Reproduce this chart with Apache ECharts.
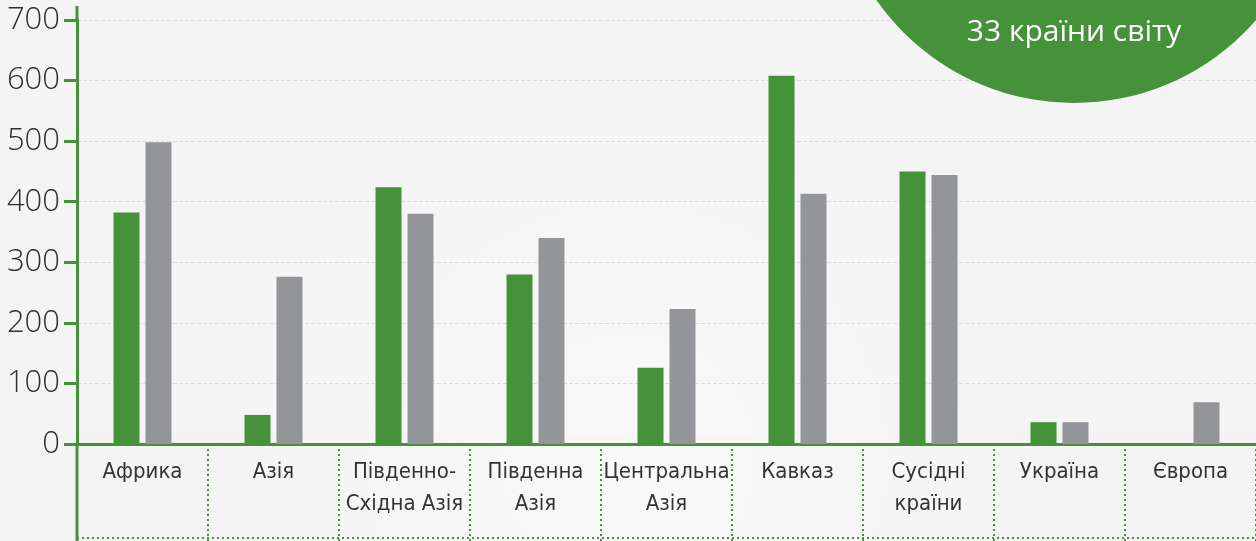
<!DOCTYPE html>
<html>
<head>
<meta charset="utf-8">
<title>Chart</title>
<script src="https://cdn.jsdelivr.net/npm/echarts@6/dist/echarts.min.js"></script>
<style>
  html, body { margin: 0; padding: 0; }
  #chart { width: 1256px; height: 541px; }
</style>
</head>
<body>
<div id="chart"></div>
<script>
// категорії та значення
const categories = ['Африка', 'Азія', 'Південно-\nСхідна Азія', 'Південна\nАзія', 'Центральна\nАзія', 'Кавказ', 'Сусідні\nкраїни', 'Україна', 'Європа']
const greenValues = [382, 48, 424, 280, 126, 608, 450, 36, 0]
const grayValues = [498, 276, 380, 340, 223, 413, 444, 36, 69]
const yTicks = [0, 100, 200, 300, 400, 500, 600, 700]

const GREEN = '#46923a'
const GRAY = '#949598'
const NARROW = "'DejaVu Sans Condensed', 'Liberation Sans Narrow', 'Arial Narrow', 'Open Sans', sans-serif"

const chart = echarts.init(document.getElementById('chart'))

const option = {
  backgroundColor: {
    type: 'radial', x: 0.5, y: 0.85, r: 0.75,
    colorStops: [
      { offset: 0, color: '#f9f9f9' },
      { offset: 1, color: '#f3f4f3' }
    ]
  },
  animation: false,
  grid: { left: 77, right: 0, top: 20, bottom: 97, containLabel: false },
  xAxis: {
    type: 'category',
    data: categories,
    boundaryGap: true,
    axisLine: { show: true, lineStyle: { color: GREEN, width: 3 } },
    axisTick: {
      show: true, length: 97, alignWithLabel: false,
      lineStyle: { color: GREEN, width: 2, type: [2, 3] }
    },
    axisLabel: {
      interval: 0, margin: 12, lineHeight: 32,
      fontFamily: NARROW, fontWeight: 300, fontSize: 22, color: '#333'
    },
    splitLine: { show: false }
  },
  yAxis: {
    type: 'value',
    min: 0, max: 700, interval: 100,
    axisLine: { show: true, lineStyle: { color: GREEN, width: 3 } },
    axisTick: { show: true, length: 13, lineStyle: { color: GREEN, width: 3 } },
    axisLabel: {
      margin: 17, fontFamily: 'Open Sans', fontWeight: 300, fontSize: 31, color: '#2f2f2f',
      formatter: v => yTicks.includes(v) ? String(v) : ''
    },
    splitLine: { show: true, lineStyle: { color: '#dcdcdc', width: 1, type: 'dashed' } }
  },
  series: [
    {
      name: 'green', type: 'bar', data: greenValues,
      barWidth: 26, barGap: '23%',
      itemStyle: { color: GREEN }, z: 1
    },
    {
      name: 'gray', type: 'bar', data: grayValues,
      barWidth: 26,
      itemStyle: { color: GRAY }, z: 1
    }
  ],
  graphic: [
    // продовження осі Y вгору і вниз
    { type: 'line', shape: { x1: 77, y1: 6, x2: 77, y2: 22 }, style: { stroke: GREEN, lineWidth: 3 }, z: 10 },
    { type: 'line', shape: { x1: 77, y1: 443, x2: 77, y2: 541 }, style: { stroke: GREEN, lineWidth: 3 }, z: 10 },
    // нижня пунктирна лінія таблиці
    { type: 'line', shape: { x1: 77, y1: 538, x2: 1256, y2: 538 }, style: { stroke: GREEN, lineWidth: 2, lineDash: [2, 3] }, z: 10 },
    // зелене коло з підписом
    { type: 'circle', shape: { cx: 1074, cy: -138, r: 241 }, style: { fill: GREEN }, z: 20 },
    {
      type: 'text', x: 1074, y: 32, z: 21,
      style: {
        text: '33 країни світу', fill: '#fff', fontFamily: 'Open Sans', fontSize: 30,
        align: 'center', verticalAlign: 'middle'
      }
    }
  ]
}

chart.setOption(option)
</script>
</body>
</html>
